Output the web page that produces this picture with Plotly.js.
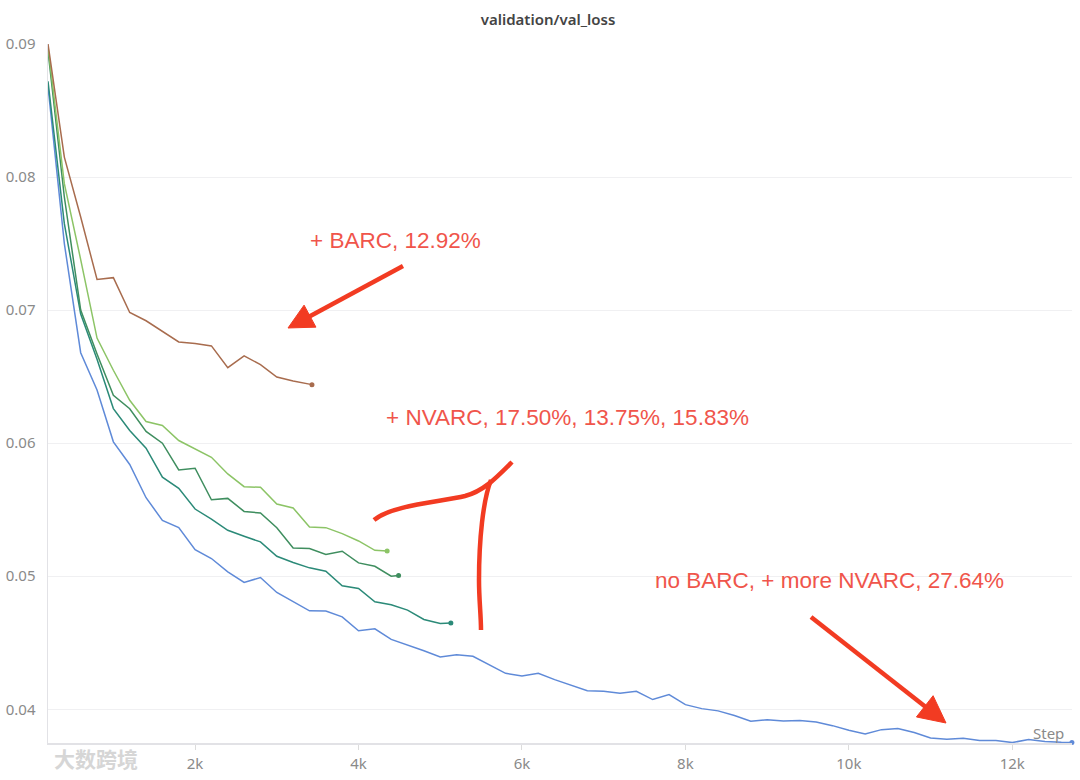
<!DOCTYPE html>
<html>
<head>
<meta charset="utf-8">
<script src="https://cdn.plot.ly/plotly-3.0.1.min.js"></script>
<style>html,body{margin:0;padding:0;background:#fff;}#chart{width:1080px;height:780px;}</style>
</head>
<body>
<div id="chart"></div>
<script>
// ---- data ----
const blueSteps = [200,400,600,800,1000,1200,1400,1600,1800,2000,2200,2400,2600,2800,3000,3200,3400,3600,3800,4000,4200,4400,4600,4800,5000,5200,5400,5600,5800,6000,6200,6400,6600,6800,7000,7200,7400,7600,7800,8000,8200,8400,8600,8800,9000,9200,9400,9600,9800,10000,10200,10400,10600,10800,11000,11200,11400,11600,11800,12000,12200,12400,12600,12730];
const blueLoss = [0.0868,0.0750,0.0668,0.0640,0.0601,0.0584,0.0559,0.0542,0.05365,0.0520,0.05133,0.05033,0.04953,0.0499,0.04878,0.04808,0.0474,0.04738,0.04695,0.0459,0.04605,0.04525,0.04483,0.0444,0.04393,0.0441,0.04398,0.04333,0.0427,0.0425,0.0427,0.04223,0.04183,0.0414,0.04135,0.0412,0.04135,0.04073,0.0411,0.04035,0.04005,0.03988,0.03953,0.0391,0.03922,0.03912,0.03915,0.03905,0.03877,0.03842,0.03815,0.03847,0.03855,0.03825,0.03785,0.03775,0.03782,0.03765,0.03765,0.0375,0.03772,0.03758,0.03752,0.0375];

const tealSteps = [200,400,600,800,1000,1200,1400,1600,1800,2000,2200,2400,2600,2800,3000,3200,3400,3600,3800,4000,4200,4400,4600,4800,5000,5130];
const tealLoss = [0.0872,0.0765,0.0697,0.0663,0.0626,0.06095,0.05962,0.05744,0.05661,0.05505,0.0543,0.05345,0.0530,0.05258,0.0515,0.05103,0.05063,0.05038,0.04928,0.04908,0.04808,0.04785,0.04745,0.04675,0.04645,0.04648];

const greenSteps = [200,400,600,800,1000,1200,1400,1600,1800,2000,2200,2400,2600,2800,3000,3200,3400,3600,3800,4000,4200,4400,4490];
const greenLoss = [0.0895,0.0785,0.0700,0.0667,0.0636,0.06259,0.06088,0.0600,0.05799,0.05812,0.05575,0.05585,0.05487,0.05475,0.05365,0.05213,0.05208,0.05163,0.05188,0.0510,0.05075,0.0500,0.05005];

const limeSteps = [200,400,600,800,1000,1200,1400,1600,1800,2000,2200,2400,2600,2800,3000,3200,3400,3600,3800,4000,4200,4350];
const limeLoss = [0.0898,0.0795,0.0738,0.0679,0.06548,0.06322,0.06163,0.06133,0.0602,0.05957,0.05894,0.05769,0.05673,0.05668,0.05543,0.05513,0.0537,0.05365,0.0532,0.05265,0.05195,0.0519];

const brownSteps = [200,400,600,800,1000,1200,1400,1600,1800,2000,2200,2400,2600,2800,3000,3200,3430];
const brownLoss = [0.0900,0.0815,0.0770,0.0723,0.07244,0.06982,0.0692,0.0684,0.06761,0.06749,0.06731,0.06568,0.06656,0.0659,0.06497,0.06467,0.0644];

const xTickVals = [2000,4000,6000,8000,10000,12000];
const xTickText = ['2k','4k','6k','8k','10k','12k'];
const yTickVals = [0.04,0.05,0.06,0.07,0.08,0.09];
const yTickText = ['0.04','0.05','0.06','0.07','0.08','0.09'];

const labelBarc = '+ BARC, 12.92%';
const labelNvarc = '+ NVARC, 17.50%, 13.75%, 15.83%';
const labelMore = 'no BARC, + more NVARC, 27.64%';
const chartTitle = 'validation/val_loss';
const xTitle = 'Step';
const watermark = '大数跨境';

// ---- styling ----
const series = [
  {x: blueSteps, y: blueLoss, color: '#5f8ad8'},
  {x: tealSteps, y: tealLoss, color: '#2b8a78'},
  {x: greenSteps, y: greenLoss, color: '#3f8e5f'},
  {x: limeSteps, y: limeLoss, color: '#8cc466'},
  {x: brownSteps, y: brownLoss, color: '#a86c4e'}
];

const traces = [];
series.forEach(s => {
  traces.push({type: 'scatter', mode: 'lines', x: s.x, y: s.y, line: {color: s.color, width: 1.5}, hoverinfo: 'skip'});
});
series.forEach(s => {
  traces.push({type: 'scatter', mode: 'markers', x: [s.x[s.x.length-1]], y: [s.y[s.y.length-1]],
    marker: {color: s.color, size: 5}, cliponaxis: false, hoverinfo: 'skip'});
});

// plot-area geometry (pixels) for decorative shapes
const L = 48, T = 44, W = 1024, H = 699;
const px = x => ((x - L) / W).toFixed(5);
const py = y => ((T + H - y) / H).toFixed(5);
function pathFrom(cmds) {
  return cmds.map(c => c[0] + ' ' + c.slice(1).reduce((a, v, i) => {
    if (i % 2 === 0) a.push(px(v)); else a[a.length-1] += ',' + py(v);
    return a;
  }, []).join(' ')).join(' ');
}
function arrowShapes(tail, tip, color, width, headLen, headHalf) {
  const dx = tip[0]-tail[0], dy = tip[1]-tail[1];
  const len = Math.hypot(dx, dy);
  const ux = dx/len, uy = dy/len, nx = -uy, ny = ux;
  const bx = tip[0]-ux*headLen, by = tip[1]-uy*headLen;
  const shaftEnd = [tip[0]-ux*(headLen*0.7), tip[1]-uy*(headLen*0.7)];
  return [
    {type: 'path', xref: 'paper', yref: 'paper', path: pathFrom([['M', tail[0], tail[1]], ['L', shaftEnd[0], shaftEnd[1]]]),
      line: {color: color, width: width}},
    {type: 'path', xref: 'paper', yref: 'paper',
      path: pathFrom([['M', tip[0], tip[1]], ['L', bx+nx*headHalf, by+ny*headHalf], ['L', bx-nx*headHalf, by-ny*headHalf]]) + ' Z',
      fillcolor: color, line: {color: color, width: 1}}
  ];
}
const red = '#f23b22';
const shapes = [].concat(
  arrowShapes([403, 266], [288, 328], red, 4.5, 25, 12.5),
  arrowShapes([811, 617], [946, 723], red, 4.5, 27, 13.5),
  [
    {type: 'path', xref: 'paper', yref: 'paper', line: {color: red, width: 4.5},
      path: pathFrom([['M', 374, 520], ['C', 392, 505, 440, 502, 465, 496], ['C', 484, 491, 497, 477, 512, 462]])},
    {type: 'path', xref: 'paper', yref: 'paper', line: {color: red, width: 4.5},
      path: pathFrom([['M', 491, 480], ['C', 483, 500, 479, 540, 479, 580], ['C', 479, 600, 481, 615, 481, 630]])}
  ]
);

const txtRed = '#f0554b';
const annFont = {family: 'Liberation Sans, Arial, sans-serif', size: 22.5, color: txtRed};
const annotations = [
  {xref: 'paper', yref: 'paper', x: +px(396), y: +py(241), text: labelBarc, showarrow: false, font: annFont, xanchor: 'center', yanchor: 'middle'},
  {xref: 'paper', yref: 'paper', x: +px(568), y: +py(417), text: labelNvarc, showarrow: false, font: annFont, xanchor: 'center', yanchor: 'middle'},
  {xref: 'paper', yref: 'paper', x: +px(830), y: +py(580), text: labelMore, showarrow: false, font: annFont, xanchor: 'center', yanchor: 'middle'},
  {xref: 'paper', yref: 'paper', x: +px(1066), y: +py(733), text: xTitle, showarrow: false,
    font: {family: 'Noto Sans, sans-serif', size: 15, color: '#8a8a8a'}, xanchor: 'right', yanchor: 'middle'},
  {xref: 'paper', yref: 'paper', x: +px(52), y: +py(758), text: '<b>' + watermark + '</b>', showarrow: false,
    font: {family: 'Noto Sans CJK SC, sans-serif', size: 21, color: '#d6d6d6'}, xanchor: 'left', yanchor: 'middle'}
];

const tickFont = {family: 'Noto Sans, sans-serif', size: 15, color: '#8a8a8a'};
const layout = {
  width: 1080, height: 780,
  margin: {l: L, r: 1080 - L - W, t: T, b: 780 - T - H},
  paper_bgcolor: '#ffffff', plot_bgcolor: '#ffffff',
  showlegend: false,
  title: {text: chartTitle, x: 548/1080, xref: 'container', xanchor: 'center', y: 1 - 20/780, yref: 'container', yanchor: 'middle',
    font: {family: 'Noto Sans, sans-serif', size: 15, color: '#444444', weight: 600}},
  xaxis: {range: [200, 12731], tickvals: xTickVals, ticktext: xTickText, showgrid: false, zeroline: false,
    showline: true, linecolor: '#e2e2e6', linewidth: 1.5, ticks: 'outside', ticklen: 5, tickcolor: '#dcdcdc',
    tickfont: tickFont, ticklabelstandoff: 1},
  yaxis: {range: [0.037466, 0.09], tickvals: yTickVals, ticktext: yTickText, showgrid: true, gridcolor: '#f0f0f2',
    zeroline: false, showline: true, linecolor: '#e2e2e6', linewidth: 1.5, ticks: '', tickfont: tickFont,
    ticklabelstandoff: 8},
  shapes: shapes,
  annotations: annotations
};

Plotly.newPlot('chart', traces, layout, {staticPlot: true, displayModeBar: false});
</script>
</body>
</html>
